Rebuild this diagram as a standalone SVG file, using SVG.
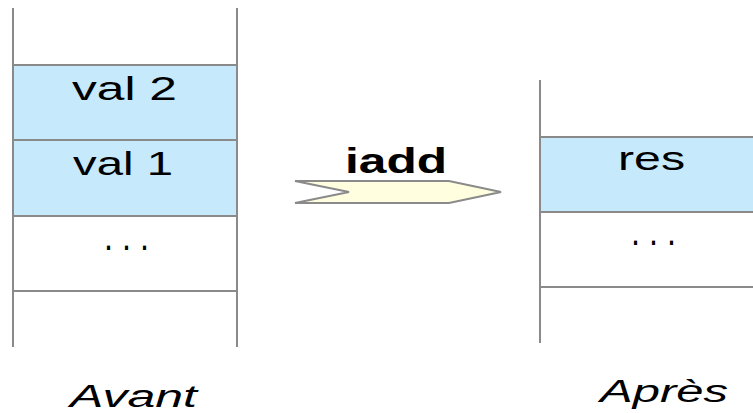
<svg xmlns="http://www.w3.org/2000/svg" width="753" height="413" viewBox="0 0 753 413">
<style>
.ln{stroke:#8a8a8a;stroke-width:2;fill:none}
.cell{fill:#c6e9fc}
.t{font-family:"Liberation Sans",Arial,sans-serif;font-size:33px;fill:#000}
.d{font-size:40px}
.b{font-weight:bold;font-size:35px}
.i{font-style:italic;font-size:31px}
</style>
<rect width="753" height="413" fill="#fff"/>
<g id="stack-avant">
<rect class="cell" x="13" y="65" width="224" height="150"/>
<line class="ln" x1="13" y1="8" x2="13" y2="347"/>
<line class="ln" x1="237" y1="8" x2="237" y2="347"/>
<line class="ln" x1="13" y1="65" x2="237" y2="65"/>
<line class="ln" x1="13" y1="140" x2="237" y2="140"/>
<line class="ln" x1="13" y1="216" x2="237" y2="216"/>
<line class="ln" x1="13" y1="291" x2="237" y2="291"/>
<text class="t" x="72" y="100" textLength="105" lengthAdjust="spacingAndGlyphs">val 2</text>
<text class="t" x="73" y="175" textLength="100" lengthAdjust="spacingAndGlyphs">val 1</text>
<text class="t d" x="104" y="250" textLength="45" lengthAdjust="spacingAndGlyphs">. . .</text>
<text class="t i" x="70" y="407" textLength="127" lengthAdjust="spacingAndGlyphs">Avant</text>
</g>
<g id="stack-apres">
<rect class="cell" x="540" y="137" width="213" height="75"/>
<line class="ln" x1="540" y1="80" x2="540" y2="343"/>
<line class="ln" x1="540" y1="137" x2="753" y2="137"/>
<line class="ln" x1="540" y1="212" x2="753" y2="212"/>
<line class="ln" x1="540" y1="287" x2="753" y2="287"/>
<text class="t" x="618" y="170" textLength="67" lengthAdjust="spacingAndGlyphs">res</text>
<text class="t d" x="631" y="245" textLength="45" lengthAdjust="spacingAndGlyphs">. . .</text>
<text class="t i" x="600" y="402" textLength="128" lengthAdjust="spacingAndGlyphs">Après</text>
</g>
<g id="connectors">
<polygon points="295,181 449,181 501,192 449,203 295,203 349,192" fill="#ffffe0" stroke="#8a8a8a" stroke-width="2"/>
<text class="t b" x="345" y="173" textLength="102" lengthAdjust="spacingAndGlyphs">iadd</text>
</g>
</svg>
